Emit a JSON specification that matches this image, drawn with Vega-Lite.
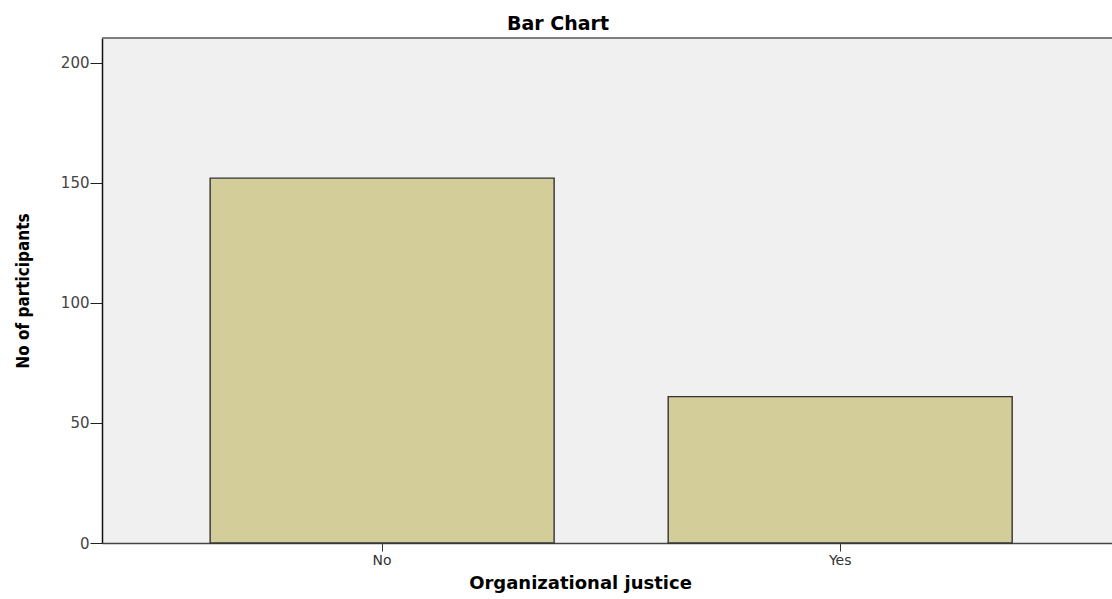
{
  "$schema": "https://vega.github.io/schema/vega-lite/v6.json",
  "autosize": {"type": "none"},
  "padding": {"left": 102, "top": 38, "right": 0, "bottom": 56},
  "width": 1010,
  "height": 505,
  "background": "white",
  "title": {
    "text": "Bar Chart",
    "font": "DejaVu Sans",
    "fontSize": 19,
    "fontWeight": "bold",
    "color": "#000000",
    "anchor": "middle",
    "dx": -49,
    "offset": 3
  },
  "config": {
    "view": {"fill": "#F0F0F0", "stroke": null},
    "font": "DejaVu Sans"
  },
  "data": {
    "values": [
      {"justice": "No", "count": 152},
      {"justice": "Yes", "count": 61}
    ]
  },
  "layer": [
    {
      "mark": {"type": "bar", "color": "#D3CE99", "stroke": "#333333", "strokeWidth": 1.4},
      "encoding": {
        "x": {
          "field": "justice",
          "type": "nominal",
          "sort": ["No", "Yes"],
          "scale": {"paddingInner": 0.249, "paddingOuter": 0.227, "align": 0.52},
          "axis": {
            "title": "Organizational justice",
            "titleFont": "DejaVu Sans",
            "titleFontSize": 18,
            "titleFontWeight": "bold",
            "titleColor": "#000000",
            "titleX": 478,
            "titleAnchor": "middle",
            "titlePadding": 7,
            "labelAngle": 0,
            "labelFont": "DejaVu Sans",
            "labelFontSize": 14,
            "labelColor": "#333333",
            "labelPadding": 2,
            "tickSize": 8,
            "tickColor": "#333333",
            "domainColor": "#444444",
            "domainWidth": 1.5,
            "grid": false
          }
        },
        "y": {
          "field": "count",
          "type": "quantitative",
          "scale": {"domain": [0, 210.4], "nice": false},
          "axis": {
            "title": "No of participants",
            "titleFont": "DejaVu Sans Condensed, Liberation Sans",
            "titleFontSize": 17,
            "titleFontWeight": "bold",
            "titleColor": "#000000",
            "titlePadding": 28,
            "values": [0, 50, 100, 150, 200],
            "labelFont": "DejaVu Sans",
            "labelFontSize": 15,
            "labelColor": "#444444",
            "labelPadding": 1,
            "tickSize": 12,
            "tickColor": "#222222",
            "domainColor": "#111111",
            "domainWidth": 1.5,
            "grid": false
          }
        }
      }
    },
    {
      "mark": {"type": "rule", "color": "#777777", "strokeWidth": 1.5},
      "encoding": {"y": {"datum": 210.4, "type": "quantitative"}}
    }
  ]
}
